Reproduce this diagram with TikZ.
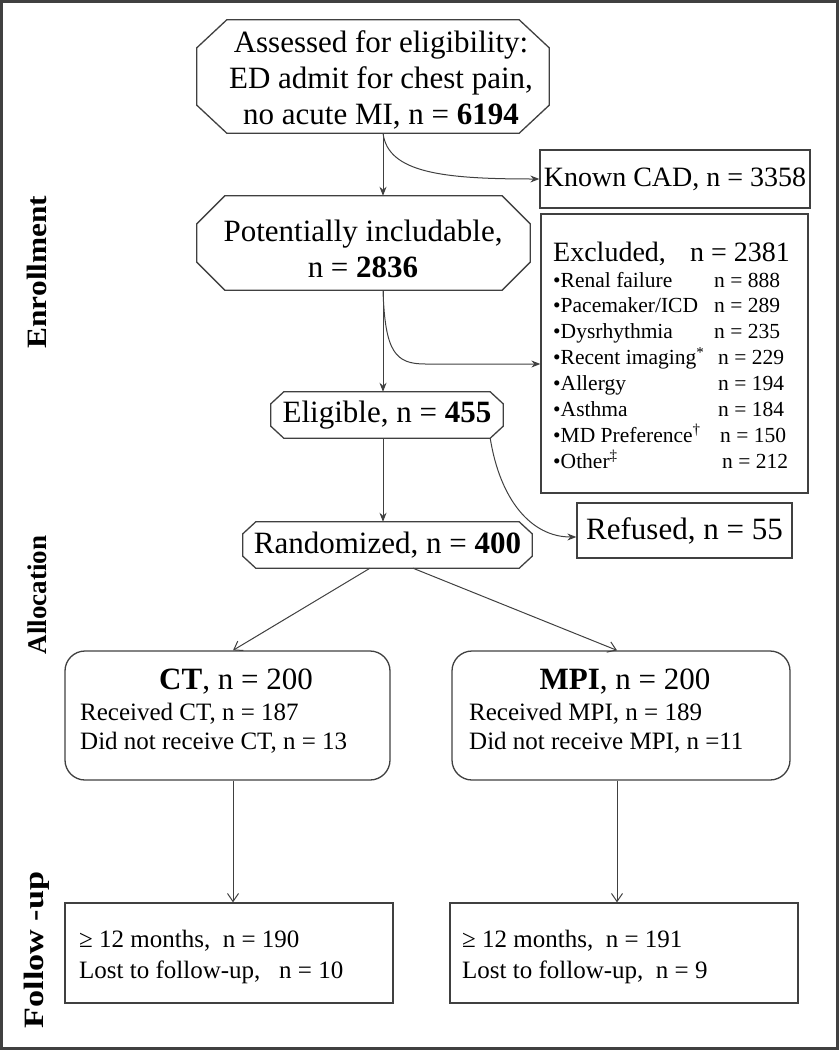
\documentclass[tikz,border=0pt]{standalone}
\usepackage{fontspec}
\setmainfont{Liberation Serif}
\usetikzlibrary{arrows.meta,calc}
\definecolor{linegray}{HTML}{404040}
\newcommand\octframe[3]{\draw[frame] ([xshift=#2]#1.north west) -- ([xshift=-#2]#1.north east) -- ([yshift=-#3]#1.north east) -- ([yshift=#3]#1.south east) -- ([xshift=-#2]#1.south east) -- ([xshift=#2]#1.south west) -- ([yshift=#3]#1.south west) -- ([yshift=-#3]#1.north west) -- cycle;}
\begin{document}
\begin{tikzpicture}[x=1pt,y=-1pt,
  frame/.style={draw=linegray,line width=1.3pt},
  box/.style={frame,rectangle,inner sep=0pt},
  octo/.style={rectangle,inner sep=0pt,align=center},
  rbox/.style={frame,rectangle,rounded corners=20pt,inner sep=0pt},
  conn/.style={draw=linegray,line width=1pt},
  fa/.style={conn,-{Stealth[length=9pt,width=7pt]}},
  oa/.style={conn,-{Straight Barb[length=8pt,width=11pt]}},
  big/.style={font=\fontsize{31}{36}\selectfont},
  mid/.style={font=\fontsize{28}{32}\selectfont},
  small/.style={font=\fontsize{21.5}{26}\selectfont},
  det/.style={font=\fontsize{25}{29}\selectfont},
  side/.style={font=\fontsize{#1}{30}\selectfont\bfseries,rotate=90},
  txt/.style={inner sep=0pt,anchor=base west}
]
\useasboundingbox (0,0) rectangle (839,1050);
\draw[draw=linegray,line width=3pt] (1.5,1.5) rectangle (837.5,1048.5);

\coordinate (spine) at (383,0);

% octagon frames
\node[octo,minimum width=352pt,minimum height=113pt] (n1) at (373,76.5) {};
\octframe{n1}{30pt}{28pt}
\node[octo,big] (n1t) at (381,80)
  {Assessed for eligibility:\\ED admit for chest pain,\\no acute MI, n = \textbf{6194}};
\node[octo,minimum width=333pt,minimum height=94pt] (n2) at (363.5,243) {};
\octframe{n2}{28pt}{28pt}
\node[octo,big] (n2t) at (363,249)
  {Potentially includable,\\n = \textbf{2836}};
\node[octo,big,minimum width=232pt,minimum height=46pt] (elig) at (387,415)
  {Eligible, n = \textbf{455}};
\octframe{elig}{13pt}{12pt}
\node[octo,big,minimum width=289pt,minimum height=46pt] (rand) at (387.5,545)
  {Randomized, n = \textbf{400}};
\octframe{rand}{13pt}{12pt}

% side boxes
\node[box,mid,minimum width=270pt,minimum height=58pt] (cad) at (675,179) {Known CAD, n = 3358};
\node[box,minimum width=267pt,minimum height=279pt] (excl) at (674.5,353.5) {};
\node[box,big,minimum width=215pt,minimum height=55pt] (ref) at (684.5,530.5) {Refused, n = 55};

% excluded contents
\node[txt,mid] (ex0) at (553,261) {Excluded,};
\node[txt,mid] (exn) at (690,261) {n = 2381};
\node[txt,small] (ex1) at (553,287) {•Renal failure};
\node[txt,small] (ex2) at (553,312.9) {•Pacemaker/ICD};
\node[txt,small] (ex3) at (553,338.8) {•Dysrhythmia};
\node[txt,small] (ex4) at (553,364.7) {•Recent imaging\textsuperscript{*}};
\node[txt,small] (ex5) at (553,390.6) {•Allergy};
\node[txt,small] (ex6) at (553,416.5) {•Asthma};
\node[txt,small] (ex7) at (553,442.4) {•MD Preference\textsuperscript{†}};
\node[txt,small] (ex8) at (553,468.3) {•Other\textsuperscript{‡}};
\node[txt,small] (v1) at (714,287) {n = 888};
\node[txt,small] (v2) at (714,312.9) {n = 289};
\node[txt,small] (v3) at (714,338.8) {n = 235};
\node[txt,small] (v4) at (718,364.7) {n = 229};
\node[txt,small] (v5) at (718,390.6) {n = 194};
\node[txt,small] (v6) at (718,416.5) {n = 184};
\node[txt,small] (v7) at (720,442.4) {n = 150};
\node[txt,small] (v8) at (722,468.3) {n = 212};

% allocation boxes
\node[rbox,minimum width=325pt,minimum height=129pt] (ct) at (227.5,715.5) {};
\node[rbox,minimum width=338pt,minimum height=129pt] (mpi) at (621,715.5) {};
\node[inner sep=0pt,anchor=base,font=\fontsize{31}{34}\selectfont] (cth) at (236,689) {\textbf{CT}, n = 200};
\node[txt,det] (ct1) at (80,720) {Received CT, n = 187};
\node[txt,det] (ct2) at (80,749) {Did not receive CT, n = 13};
\node[inner sep=0pt,anchor=base,font=\fontsize{31}{34}\selectfont] (mpih) at (625,689) {\textbf{MPI}, n = 200};
\node[txt,det] (mp1) at (469,720) {Received MPI, n = 189};
\node[txt,det] (mp2) at (469,749) {Did not receive MPI, n =11};

% follow-up boxes
\node[box,minimum width=328pt,minimum height=100pt] (fu1) at (229,953) {};
\node[box,minimum width=348pt,minimum height=100pt] (fu2) at (624,953) {};
\node[txt,det] (f11) at (79,947) {≥ 12 months,\ \ n = 190};
\node[txt,det] (f12) at (79,978) {Lost to follow-up,\ \ \ n = 10};
\node[txt,det] (f21) at (462,947) {≥ 12 months,\ \ n = 191};
\node[txt,det] (f22) at (462,978) {Lost to follow-up,\ \ n = 9};

% side labels
\node[side=28,xscale=1.12] (lab1) at (37,272) {Enrollment};
\node[side=27] (lab2) at (37,595) {Allocation};
\node[side=28,xscale=1.22] (lab3) at (37,950) {Follow -up};

% connectors
\coordinate (ctline) at (233,0);
\coordinate (mpiline) at (617,0);
\draw[fa] (n1.south -| spine) -- (n2.north -| spine);
\draw[fa] (n1.south -| spine) .. controls +(5,40) and +(-95,0) .. (cad.west);
\draw[fa] (n2.south -| spine) -- (elig.north -| spine);
\coordinate (exin) at ([yshift=-10.5pt]excl.west);
\draw[fa] (n2.south -| spine) .. controls +(2,62) and +(-30,0) .. ($(exin)+(-115,0)$) -- (exin);
\draw[fa] (elig.south -| spine) -- (rand.north -| spine);
\draw[fa] ([xshift=-13pt]elig.south east) .. controls +(10,62) and +(-45,0) .. ([yshift=-6.5pt]ref.west);
\draw[oa] ([xshift=-17.5pt]rand.south) -- ([xshift=5.5pt]ct.north);
\draw[oa] ([xshift=25.5pt]rand.south) -- ([xshift=-4pt]mpi.north);
\draw[oa] (ct.south -| ctline) -- (fu1.north -| ctline);
\draw[oa] (mpi.south -| mpiline) -- (fu2.north -| mpiline);
\end{tikzpicture}
\end{document}
